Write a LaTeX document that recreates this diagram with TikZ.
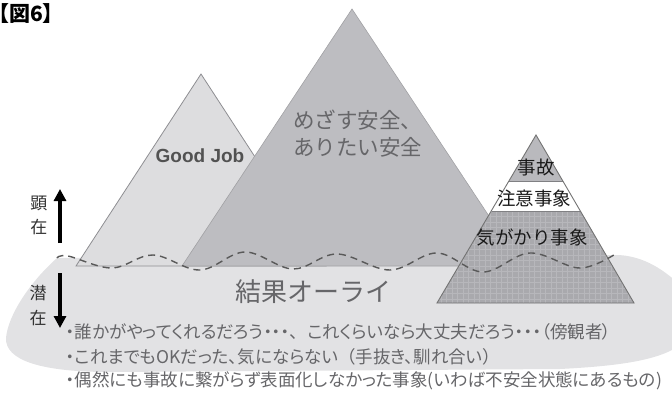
\documentclass[tikz,border=0pt]{standalone}
\usepackage{fontspec}
\usetikzlibrary{arrows.meta}
\newfontfamily\jp{Noto Sans CJK JP}
\newfontfamily\jpp{Noto Sans CJK JP}[RawFeature={+palt}]
\newfontfamily\gjfont{Liberation Sans}
\newcommand\fw[1]{{\jp #1}}
\definecolor{lefttri}{HTML}{DDDDDF}
\definecolor{bigtri}{HTML}{BDBDC1}
\definecolor{blob}{HTML}{E2E2E4}
\definecolor{pyrtop}{HTML}{B9B9BD}
\definecolor{pyrbot}{HTML}{A9A9AD}
\definecolor{pyrgrid}{HTML}{B7B7BB}
\definecolor{edge}{HTML}{8E8E92}
\definecolor{txtgray}{HTML}{666669}
\tikzset{
  lbl/.style={inner sep=0pt, font=\jp},
  bullet/.style={inner sep=0pt, anchor=west, font=\jpp\fontsize{17.5}{20}\selectfont, text=txtgray},
  side/.style={inner sep=0pt, font=\jp\fontsize{17}{20}\selectfont, text=black!80},
  pyrlbl/.style={inner sep=0pt, font=\jp\fontsize{18.5}{22}\selectfont, text=black!90},
  bigarrow/.style={line width=3.4pt, -{Triangle[length=12pt,width=12pt]}},
  wave/.style={dashed, dash pattern=on 7pt off 5pt, line width=1.4pt, draw=black!65},
}
\begin{document}
\begin{tikzpicture}[x=1pt,y=-1pt]
\useasboundingbox (0,0) rectangle (672,396);
% ground blob
\fill[blob] (57,258) -- (618,255) .. controls (640,256) and (660,266) .. (680,285)
  -- (680,345) .. controls (660,360) and (620,366) .. (560,369)
  -- (110,372) .. controls (40,372) and (5,360) .. (6,338)
  .. controls (8,315) and (30,282) .. (57,258) -- cycle;
% left triangle
\filldraw[fill=lefttri, draw=edge, line width=0.8pt] (201,74) -- (326,266) -- (76,266) -- cycle;
% big triangle
\filldraw[fill=bigtri, draw=bigtri!85!black, line width=0.6pt] (352,9) -- (522,266) -- (182,266) -- cycle;
% pyramid
\fill[pyrtop] (536,135) -- (563,181) -- (509,181) -- cycle;
\fill[white] (509,181) -- (563,181) -- (580.5,211) -- (491.5,211) -- cycle;
\begin{scope}
  \clip (491.5,211) -- (580.5,211) -- (634,303) -- (437,303) -- cycle;
  \fill[pyrbot] (430,205) rectangle (640,310);
  \foreach \i in {0,...,40} {
    \draw[pyrgrid, line width=0.5pt] (430+5.5*\i,205) -- (430+5.5*\i,310);
  }
  \foreach \j in {0,...,19} {
    \draw[pyrgrid, line width=0.5pt] (430,211+5.5*\j) -- (640,211+5.5*\j);
  }
\end{scope}
\draw[edge!90!black, line width=0.6pt] (509,181) -- (563,181);
\draw[edge!90!black, line width=0.6pt] (491.5,211) -- (580.5,211);
\draw[black!55, line width=0.9pt] (536,135) -- (634,303) -- (437,303) -- cycle;
% dashed wave
\draw[wave] plot[smooth, tension=0.6] coordinates {(57,258) (68,256) (112,268) (153,255) (200,270) (245,252) (293,269) (337,254) (390,270) (437,253) (483,272) (530,253) (580,268) (617,253)};
% arrows
\coordinate (upS) at (60,243);
\coordinate (upE) at (60,189);
\coordinate (dnS) at (60,273);
\coordinate (dnE) at (60,328);
\draw[bigarrow] (upS) -- (upE);
\draw[bigarrow] (dnS) -- (dnE);
% texts
\node[lbl, anchor=west, font=\jp\bfseries\fontsize{21}{24}\selectfont] (title) at (-12,14) {【図6】};
\node[lbl, font=\gjfont\bfseries\fontsize{19}{22}\selectfont, text=black!68] (gj) at (200,156) {Good Job};
\node[lbl, anchor=west, font=\jp\fontsize{21.5}{24}\selectfont, text=txtgray] (m1) at (293,120) {めざす安全、};
\node[lbl, anchor=west, font=\jp\fontsize{21.5}{24}\selectfont, text=txtgray] (m2) at (293,147) {ありたい安全};
\node[lbl, anchor=west, font=\jp\fontsize{26}{30}\selectfont, text=txtgray] (kekka) at (235,292) {結果オーライ};
\node[pyrlbl] (jiko) at (536,167) {事故};
\node[pyrlbl] (chui) at (534,198) {注意事象};
\node[pyrlbl] (kigakari) at (532,237) {気がかり事象};
\node[side] (ken) at (39,203) {顕};
\node[side] (zai1) at (39,227) {在};
\node[side] (sen) at (38,293) {潜};
\node[side] (zai2) at (38,318) {在};
\node[bullet] (b1) at (66,332) {・誰かがやってくれるだろう・・・\fw{、}これくらいなら大丈夫だろう・・・（傍観者）};
\node[bullet] (b2) at (66,357) {・これまでもOKだった、気にならない\fw{（}手抜き、馴れ合い\fw{）}};
\node[bullet] (b3) at (66,381) {・偶然にも事故に繋がらず表面化しなかった事象(いわば不安全状態にあるもの)};
\end{tikzpicture}
\end{document}
